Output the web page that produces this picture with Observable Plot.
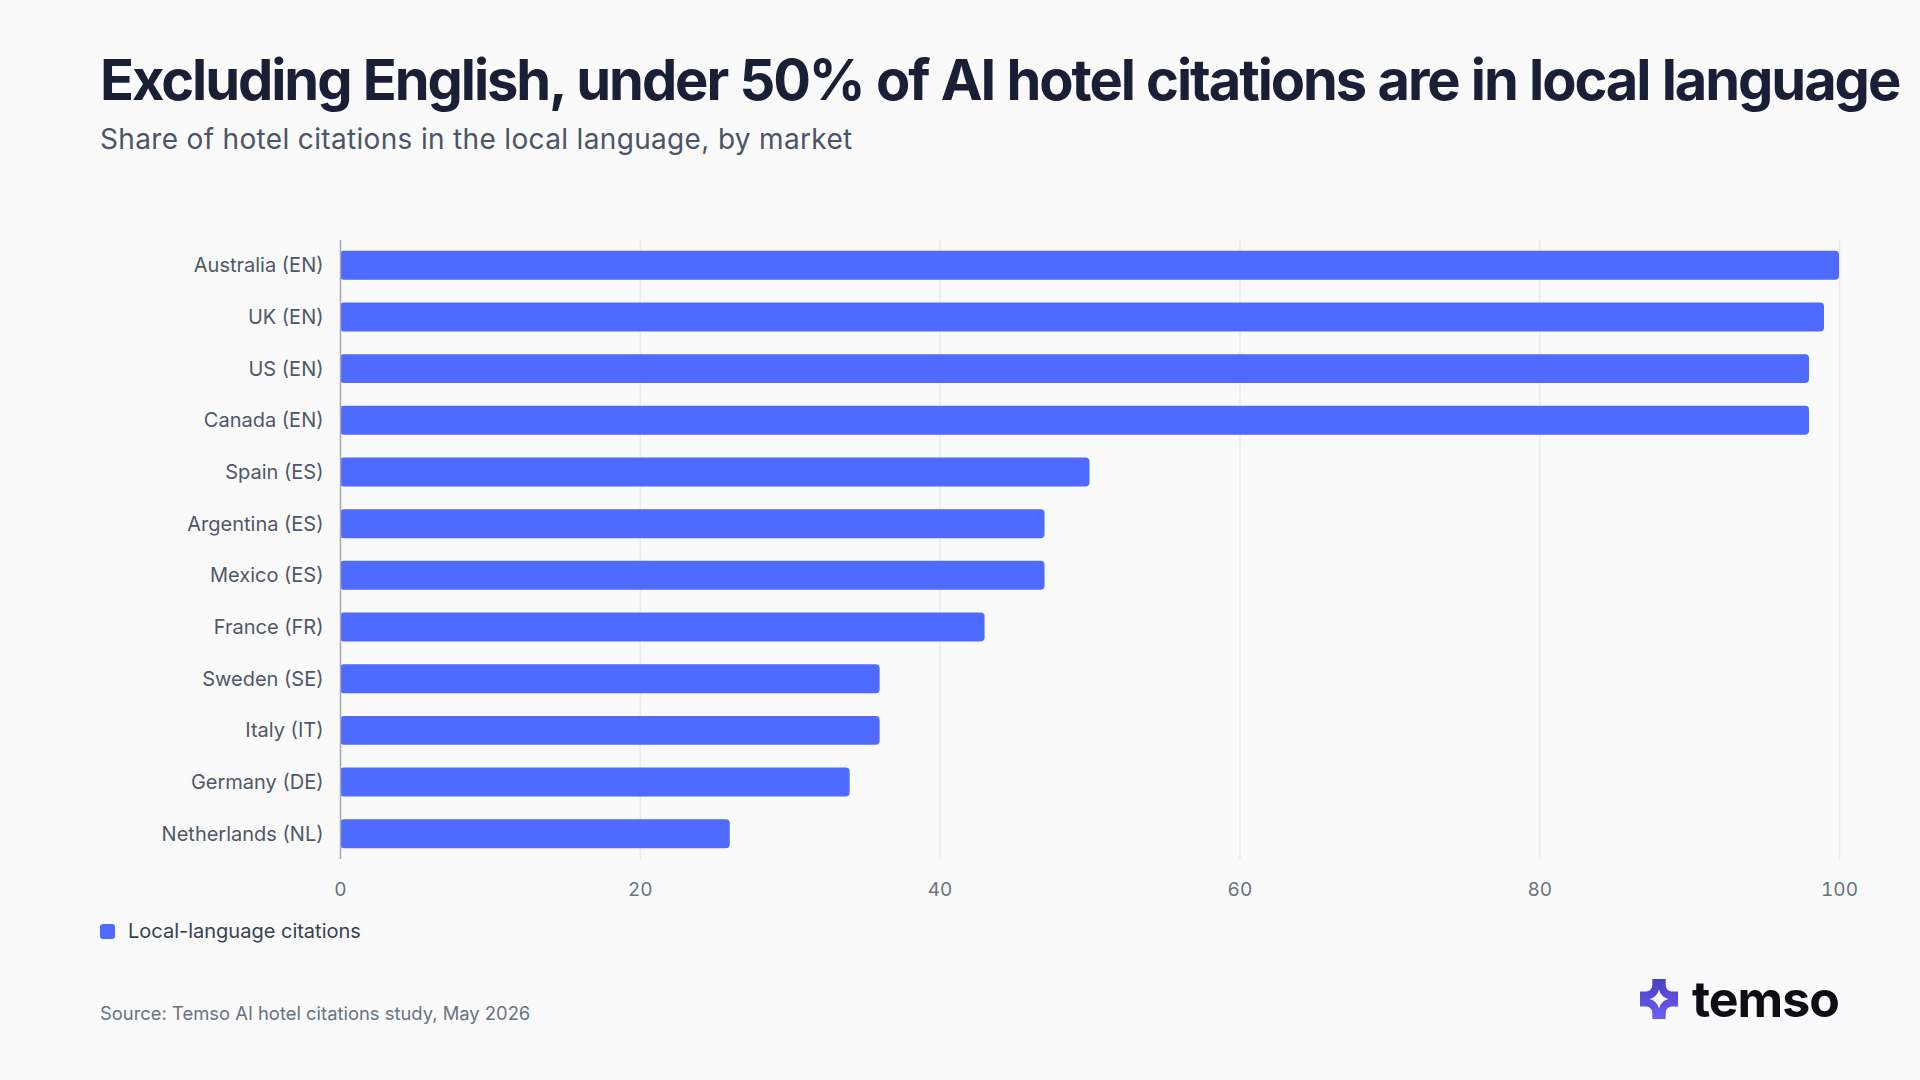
<!DOCTYPE html>
<html>
<head>
<meta charset="utf-8">
<script src="https://cdn.jsdelivr.net/npm/d3@7"></script>
<script src="https://cdn.jsdelivr.net/npm/@observablehq/plot@0.6"></script>
<style>
  html, body { margin: 0; padding: 0; background: #fafafa; }
  body { width: 1920px; height: 1080px; position: relative; overflow: hidden; font-family: Inter, "Noto Sans", sans-serif; }
  #title { position: absolute; left: 100px; top: 46px; margin: 0; font-size: 56px; font-weight: 700; letter-spacing: -0.037em; word-spacing: 0.02em; color: #1a1f36; white-space: nowrap; }
  #subtitle { position: absolute; left: 100px; top: 122px; margin: 0; font-size: 28px; font-weight: 400; letter-spacing: 0.012em; color: #4b5567; white-space: nowrap; }
  #chart { position: absolute; left: 0; top: 199px; }
  #legend { position: absolute; left: 100px; top: 919px; display: flex; align-items: center; font-size: 20px; color: #374151; }
  #legend .sw { width: 15px; height: 15px; border-radius: 3px; background: #4f6bff; margin-right: 13px; }
  #source { position: absolute; left: 100px; top: 1002px; font-size: 18.4px; color: #6b7280; }
  #logo { position: absolute; left: 1640px; top: 974px; display: flex; align-items: center; }
  #logo span { font-size: 50px; font-weight: 700; color: #0d0d14; letter-spacing: -0.02em; margin-left: 14px; line-height: 1; }
</style>
</head>
<body>
<h1 id="title">Excluding English, under 50% of AI hotel citations are in local language</h1>
<p id="subtitle">Share of hotel citations in the local language, by market</p>
<div id="chart"></div>
<div id="legend"><div class="sw"></div><span id="legendLabel"></span></div>
<div id="source">Source: Temso AI hotel citations study, May 2026</div>
<div id="logo">
  <svg width="38" height="40" viewBox="0 0 40 42">
    <defs>
      <linearGradient id="lg" x1="0" y1="0" x2="0" y2="1">
        <stop offset="0" stop-color="#4a3fc4"/>
        <stop offset="1" stop-color="#6d5ef2"/>
      </linearGradient>
    </defs>
    <path fill="url(#lg)" fill-rule="evenodd" d="M13,0 H27 V6 Q27,12 33,13 H40 V29 H33 Q27,30 27,36 V42 H13 V36 Q13,30 7,29 H0 V13 H7 Q13,12 13,6 Z M20,11 Q22,19 30,21 Q22,23 20,31 Q18,23 10,21 Q18,19 20,11 Z"/>
  </svg>
  <span>temso</span>
</div>
<script>
const markets = ["Australia (EN)", "UK (EN)", "US (EN)", "Canada (EN)", "Spain (ES)", "Argentina (ES)", "Mexico (ES)", "France (FR)", "Sweden (SE)", "Italy (IT)", "Germany (DE)", "Netherlands (NL)"];
const shares = [100, 99, 98, 98, 50, 47, 47, 43, 36, 36, 34, 26];
const xTicks = [0, 20, 40, 60, 80, 100];
const gridTicks = [20, 40, 60, 80, 100];
const seriesName = "Local-language citations";

document.getElementById("legendLabel").textContent = seriesName;

const data = markets.map((m, i) => ({market: m, share: shares[i]}));

const chart = Plot.plot({
  width: 1920,
  height: 720,
  marginTop: 41,
  marginBottom: 60,
  marginLeft: 340,
  marginRight: 81,
  style: {background: "transparent", fontFamily: "Inter, 'Noto Sans', sans-serif", overflow: "visible"},
  x: {domain: [0, 100], ticks: xTicks},
  y: {domain: markets, paddingInner: 0.44, paddingOuter: 0.21, round: false},
  marks: [
    Plot.ruleX(gridTicks, {stroke: "#ebebeb", strokeWidth: 1.5}),
    Plot.barX(data, {x: "share", y: "market", fill: "#4f6bff", rx: 4}),
    Plot.ruleX([0], {stroke: "#a3a9b6", strokeWidth: 1.5}),
    Plot.axisX({ticks: xTicks, tickSize: 0, tickPadding: 23, fontSize: 19, color: "#6b7280", label: null}),
    Plot.axisY({tickSize: 0, tickPadding: 17, fontSize: 20, color: "#4f5868", label: null})
  ]
});
document.getElementById("chart").appendChild(chart);
</script>
</body>
</html>
